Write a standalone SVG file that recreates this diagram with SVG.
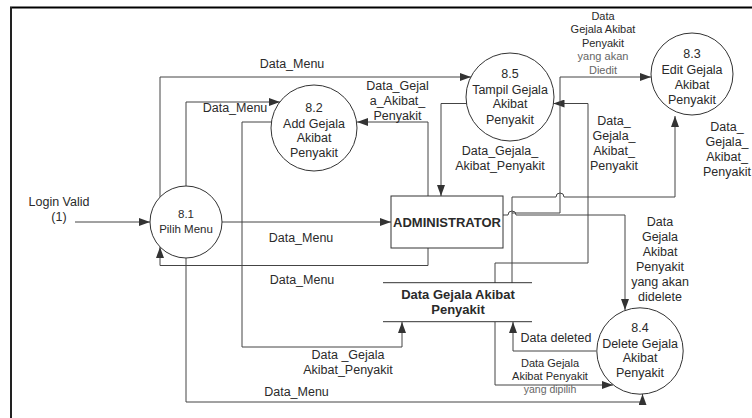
<svg xmlns="http://www.w3.org/2000/svg" width="752" height="418" viewBox="0 0 752 418">
<defs>
<marker id="ah" markerWidth="11" markerHeight="8" refX="11" refY="4" orient="auto" markerUnits="userSpaceOnUse">
<path d="M0,0 L11,4 L0,8 z" fill="#333"/>
</marker>
<style>
text{font-family:"Liberation Sans",Arial,sans-serif;fill:#2a2a2a;font-size:12.5px;text-anchor:middle}
.s{font-size:11px}
.g{fill:#666}
.b{font-weight:bold;font-size:13px}
.proc{fill:none;stroke:#333;stroke-width:1}
#connectors path{fill:none;stroke:#444;stroke-width:1}
.a{marker-end:url(#ah)}
</style>
</defs>
<rect width="752" height="418" fill="#fff"/>
<path d="M10,7.5 H752" stroke="#000" stroke-width="2" fill="none"/>
<path d="M11,7 V418" stroke="#222" stroke-width="2" fill="none"/>

<g id="connectors">
<path class="a" d="M75,222 H150"/>
<path class="a" d="M222,222 H391"/>
<path class="a" d="M428,248 V265.5 H160 V247"/>
<path class="a" d="M160,197 V77 H471"/>
<path class="a" d="M186,186 V102 H280"/>
<path class="a" d="M271.5,122 H242 V347 H402 V322"/>
<path class="a" d="M428,196 V122 H357"/>
<path class="a" d="M466.5,103.5 H441 V196"/>
<path class="a" d="M495,283 V263 H588 V103.5 H553.5"/>
<path class="a" d="M512,283 V213 H560 V77 H651"/>
<path class="a" d="M512,213 V197 H556 A4,4 0 0 1 564,197 H675 V116"/>
<path class="a" d="M503,215 H508 A4,4 0 0 1 516,215 H625 V310"/>
<path class="a" d="M596,351 H513 V322"/>
<path class="a" d="M495,322 V385 H613"/>
<path class="a" d="M186,258 V402 H642.5 V394"/>
</g>

<g id="label-login">
<text x="59" y="205.5">Login Valid</text>
<text x="59" y="221">(1)</text>
</g>
<g id="labels">
<text x="292" y="67.5">Data_Menu</text>
<text x="235" y="112">Data_Menu</text>
<text x="301" y="241.5">Data_Menu</text>
<text x="302" y="283.5">Data_Menu</text>
<text x="348" y="358.5">Data _Gejala</text>
<text x="348" y="373.5">Akibat_Penyakit</text>
<text x="296.5" y="396">Data_Menu</text>
<text x="397.5" y="89.5">Data_Gejal</text>
<text x="397.5" y="104.5">a_Akibat_</text>
<text x="397.5" y="119.5">Penyakit</text>
<text x="500" y="154.5">Data_Gejala_</text>
<text x="500" y="170">Akibat_Penyakit</text>
<text x="614" y="125">Data_</text>
<text x="614" y="140">Gejala_</text>
<text x="614" y="155">Akibat_</text>
<text x="614" y="170">Penyakit</text>
<text x="727" y="131">Data_</text>
<text x="727" y="146">Gejala_</text>
<text x="727" y="161">Akibat_</text>
<text x="727" y="175.5">Penyakit</text>
<text class="s" x="603" y="19.5">Data</text>
<text class="s" x="603" y="33">Gejala Akibat</text>
<text class="s" x="603" y="46.5">Penyakit</text>
<text class="s g" x="603" y="60">yang akan</text>
<text class="s g" x="603" y="73.5">Diedit</text>
<text x="660" y="226">Data</text>
<text x="660" y="241">Gejala</text>
<text x="660" y="256">Akibat</text>
<text x="660" y="271">Penyakit</text>
<text x="660" y="286">yang akan</text>
<text x="660" y="301">didelete</text>
<text x="556" y="342">Data deleted</text>
<text class="s" x="550" y="366.5">Data Gejala</text>
<text class="s" x="550" y="380">Akibat Penyakit</text>
<text class="s g" x="550" y="393" style="font-size:10.5px">yang dipilih</text>
</g>

<g id="p81">
<circle class="proc" cx="186" cy="222" r="36"/>
<text x="186" y="217.5" style="font-size:11.5px">8.1</text>
<text x="186" y="232.5" style="font-size:11.5px">Pilih Menu</text>
</g>
<g id="p82">
<circle class="proc" cx="314" cy="128" r="43"/>
<text x="314" y="112">8.2</text>
<text x="314" y="128">Add Gejala</text>
<text x="314" y="142">Akibat</text>
<text x="314" y="157">Penyakit</text>
</g>
<g id="p85">
<circle class="proc" cx="510" cy="97" r="44"/>
<text x="510" y="78">8.5</text>
<text x="510" y="93.5">Tampil Gejala</text>
<text x="510" y="108">Akibat</text>
<text x="510" y="123.5">Penyakit</text>
</g>
<g id="p83">
<circle class="proc" cx="692" cy="74" r="41"/>
<text x="692" y="58">8.3</text>
<text x="692" y="74">Edit Gejala</text>
<text x="692" y="88.5">Akibat</text>
<text x="692" y="104">Penyakit</text>
</g>
<g id="p84">
<circle class="proc" cx="640" cy="351" r="43.2"/>
<text x="640" y="332">8.4</text>
<text x="640" y="348">Delete Gejala</text>
<text x="640" y="362">Akibat</text>
<text x="640" y="377">Penyakit</text>
</g>
<g id="admin">
<rect x="391" y="196" width="112" height="52" fill="none" stroke="#333"/>
<text class="b" x="447" y="226.5">ADMINISTRATOR</text>
</g>
<g id="datastore">
<path d="M383,282.7 H532 M383,321.7 H532" stroke="#333" fill="none"/>
<text class="b" x="458" y="298.5">Data Gejala Akibat</text>
<text class="b" x="458" y="314">Penyakit</text>
</g>
</svg>
